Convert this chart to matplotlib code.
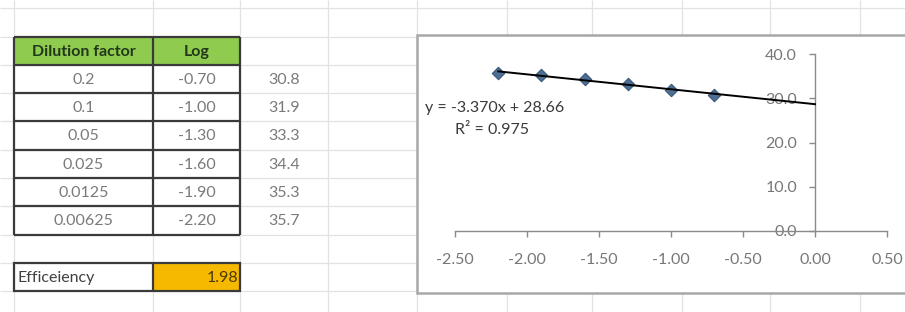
import numpy as np
import matplotlib
matplotlib.use("Agg")
import matplotlib.pyplot as plt
from matplotlib.patches import Rectangle

plt.rcParams["font.family"] = ["Lato", "DejaVu Sans"]
plt.rcParams["axes.unicode_minus"] = False

# table contents
dilution = ["0.2", "0.1", "0.05", "0.025", "0.0125", "0.00625"]
log_vals = [-0.70, -1.00, -1.30, -1.60, -1.90, -2.20]
ct_vals = [30.8, 31.9, 33.3, 34.4, 35.3, 35.7]
headers = ["Dilution factor", "Log"]
eff_label = "Efficeiency"
eff_value = 1.98

# trendline as printed on the chart
slope = -3.370
intercept = 28.66
eq_text = "y = -3.370x + 28.66"
r2_text = "R² = 0.975"
x_ticks = [-2.5, -2.0, -1.5, -1.0, -0.5, 0.0, 0.5]
y_ticks = [0, 10, 20, 30, 40]

# sheet geometry (pixels)
W, H = 905, 312
col_x = [14, 153, 240, 328, 417, 507, 592, 682, 770, 860]
row_y = [8, 36.5, 64.8, 93, 121.3, 149.6, 178, 206.2, 234.5, 262.8, 291]
grid_c = "#e2e2e2"
border_c = "#3a3a3a"
text_c = "#7a7a7a"
fs = 11.5

fig = plt.figure(figsize=(W / 100, H / 100), dpi=100)
bg = fig.add_axes([0, 0, 1, 1])
bg.set_xlim(0, W)
bg.set_ylim(H, 0)
bg.axis("off")

# spreadsheet gridlines
bg.vlines(col_x, 0, H, color=grid_c, lw=0.9, zorder=1)
bg.hlines(row_y, 0, W, color=grid_c, lw=0.9, zorder=1)

# header cells
c0, c1, c2, c3 = col_x[0], col_x[1], col_x[2], col_x[3]
bg.add_patch(Rectangle((c0, row_y[1]), c2 - c0, row_y[2] - row_y[1],
                       facecolor="#8fcb4e", edgecolor="none", zorder=2))
for j, h in enumerate(headers):
    bg.text((col_x[j] + col_x[j + 1]) / 2, (row_y[1] + row_y[2]) / 2 + 1, h, ha="center", va="center",
            fontsize=fs, fontweight="bold", color="#22381a", zorder=4)

# data rows
for i, (d, lg, ct) in enumerate(zip(dilution, log_vals, ct_vals)):
    yc = (row_y[i + 2] + row_y[i + 3]) / 2 + 1
    bg.text((c0 + c1) / 2, yc, d, ha="center", va="center", fontsize=fs, color=text_c, zorder=4)
    bg.text((c1 + c2) / 2, yc, f"{lg:.2f}", ha="center", va="center", fontsize=fs, color=text_c, zorder=4)
    bg.text((c2 + c3) / 2, yc, f"{ct:.1f}", ha="center", va="center", fontsize=fs, color=text_c, zorder=4)

# table borders
bg.hlines(row_y[1:9], c0, c2, color=border_c, lw=1.6, zorder=3)
bg.vlines([c0, c1, c2], row_y[1], row_y[8], color=border_c, lw=1.6, zorder=3)

# efficiency row
bg.add_patch(Rectangle((c1, row_y[9]), c2 - c1, row_y[10] - row_y[9],
                       facecolor="#f7b900", edgecolor="none", zorder=2))
bg.add_patch(Rectangle((c0, row_y[9]), c2 - c0, row_y[10] - row_y[9],
                       facecolor="none", edgecolor=border_c, lw=1.6, zorder=3))
bg.vlines(c1, row_y[9], row_y[10], color=border_c, lw=1.6, zorder=3)
ye = (row_y[9] + row_y[10]) / 2 + 1
bg.text(c0 + 3, ye, eff_label, ha="left", va="center", fontsize=fs, color="#404040", zorder=4)
bg.text(c2 - 2, ye, f"{eff_value:.2f}", ha="right", va="center", fontsize=fs, color="#4a3a00", zorder=4)

# chart box
bg.add_patch(Rectangle((417, 35), 500, 258, facecolor="white", edgecolor="#a8a8a8", lw=1.8, zorder=5))
bg.text(425, 108, eq_text, ha="left", va="center", fontsize=fs, color="#3a3a3a", zorder=6)
bg.text(455, 130, r2_text, ha="left", va="center", fontsize=fs, color="#3a3a3a", zorder=6)

# plot area
ax = fig.add_axes([455 / W, 1 - 231 / H, (887 - 455) / W, (231 - 54) / H])
ax.set_zorder(6)
ax.patch.set_alpha(0)
ax.set_xlim(-2.5, 0.5)
ax.set_ylim(0, 40)
for s in ["top", "right"]:
    ax.spines[s].set_visible(False)
ax.spines["left"].set_position(("data", 0))
for s in ["left", "bottom"]:
    ax.spines[s].set_color("#8a8a8a")
    ax.spines[s].set_linewidth(1.0)
ax.set_xticks(x_ticks)
ax.set_yticks(y_ticks)
ax.set_xticklabels([f"{v:.2f}" for v in x_ticks])
ax.set_yticklabels([f"{v:.1f}" for v in y_ticks])
ax.tick_params(axis="x", direction="out", length=4, width=1, color="#8a8a8a",
               pad=12, labelsize=fs, labelcolor="#777777")
ax.tick_params(axis="y", direction="out", length=4, width=1, color="#8a8a8a",
               pad=9, labelsize=fs, labelcolor="#777777")

ax.scatter(log_vals, ct_vals, marker="D", s=40, facecolor="#4d6f94", edgecolor="#3b5778",
           lw=0.8, zorder=3, clip_on=False)
xt = np.array([min(log_vals), 0.0])
ax.plot(xt, slope * xt + intercept, color="black", lw=1.4, zorder=4, clip_on=False)

fig.savefig("out.png", dpi=100)
